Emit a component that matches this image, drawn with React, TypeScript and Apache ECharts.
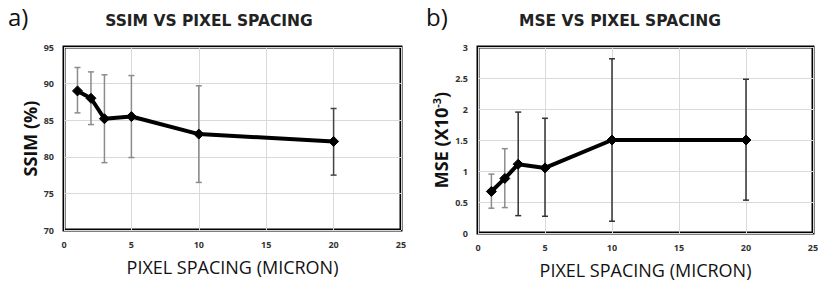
import React, { useEffect, useRef } from "react";
import * as echarts from "echarts";

const spacing = [1, 2, 3, 5, 10, 20];
const ssimMean = [89.0, 88.0, 85.2, 85.5, 83.1, 82.1];
const ssimHigh = [92.2, 91.6, 91.2, 91.1, 89.7, 86.6];
const ssimLow = [86.0, 84.4, 79.2, 79.9, 76.5, 77.5];
const mseMean = [0.67, 0.88, 1.11, 1.05, 1.5, 1.5];
const mseHigh = [0.95, 1.36, 1.95, 1.85, 2.81, 2.48];
const mseLow = [0.4, 0.41, 0.28, 0.27, 0.19, 0.53];
const ssimBarColors = ["#8c8c8c", "#8c8c8c", "#8c8c8c", "#8c8c8c", "#8c8c8c", "#444"];
const mseBarColors = ["#8c8c8c", "#8c8c8c", "#333", "#333", "#333", "#333"];

const FONT = "'Open Sans', 'DejaVu Sans', sans-serif";
const TITLE_FONT = "'DejaVu Sans', sans-serif";

function errSeries(idx: number, lows: number[], highs: number[], colors: string[]) {
  return {
    type: "custom",
    xAxisIndex: idx,
    yAxisIndex: idx,
    z: 1,
    data: spacing.map((x, i) => [x, lows[i], highs[i]]),
    renderItem: (params: any, api: any) => {
      const x = api.value(0);
      const lo = api.coord([x, api.value(1)]);
      const hi = api.coord([x, api.value(2)]);
      const c = colors[params.dataIndex];
      const style = { stroke: c, lineWidth: 1.5 };
      const w = 3;
      return {
        type: "group",
        children: [
          { type: "line", shape: { x1: lo[0], y1: lo[1], x2: hi[0], y2: hi[1] }, style },
          { type: "line", shape: { x1: lo[0] - w, y1: lo[1], x2: lo[0] + w, y2: lo[1] }, style },
          { type: "line", shape: { x1: hi[0] - w, y1: hi[1], x2: hi[0] + w, y2: hi[1] }, style },
        ],
      };
    },
  };
}

function lineSeries(idx: number, vals: number[]) {
  return {
    type: "line",
    xAxisIndex: idx,
    yAxisIndex: idx,
    z: 3,
    data: spacing.map((x, i) => [x, vals[i]]),
    symbol: "diamond",
    symbolSize: 10,
    lineStyle: { color: "#000", width: 4 },
    itemStyle: { color: "#000", borderColor: "#000" },
  };
}

const axisLabel = { fontFamily: FONT, fontSize: 9, fontWeight: "bold" as const, color: "#333" };
const splitLine = { show: true, lineStyle: { color: "#d9d9d9", width: 1 } };

function xAxis(idx: number) {
  return {
    type: "value",
    gridIndex: idx,
    min: 0,
    max: 25,
    interval: 5,
    name: "PIXEL SPACING (MICRON)",
    nameLocation: "middle",
    nameGap: 28,
    nameTextStyle: { fontFamily: FONT, fontSize: 18, color: "#111" },
    axisLine: { show: false },
    axisTick: { show: false },
    axisLabel: { ...axisLabel, margin: 10 },
    splitLine,
  };
}

export default function App() {
  const ref = useRef<HTMLDivElement>(null);
  useEffect(() => {
    const chart = echarts.init(ref.current!, null, { renderer: "svg" });
    chart.setOption({
      animation: false,
      backgroundColor: "#fff",
      graphic: [
        { type: "text", left: 8, top: 4, style: { text: "a)", fontFamily: FONT, fontSize: 24, fill: "#111" } },
        { type: "text", left: 426, top: 4, style: { text: "b)", fontFamily: FONT, fontSize: 24, fill: "#111" } },
        {
          type: "text", x: 209, y: 21,
          style: { text: "SSIM VS PIXEL SPACING", fontFamily: TITLE_FONT, fontSize: 15.5, fontWeight: "bold", fill: "#222", align: "center", verticalAlign: "middle" },
        },
        {
          type: "text", x: 620, y: 21,
          style: { text: "MSE VS PIXEL SPACING", fontFamily: TITLE_FONT, fontSize: 15.5, fontWeight: "bold", fill: "#222", align: "center", verticalAlign: "middle" },
        },
      ],
      grid: [
        { left: 64, top: 47, width: 337, height: 183, show: true, borderColor: "#000", borderWidth: 3, backgroundColor: "#fff" },
        { left: 478, top: 47, width: 335, height: 186, show: true, borderColor: "#000", borderWidth: 3, backgroundColor: "#fff" },
      ],
      xAxis: [xAxis(0), xAxis(1)],
      yAxis: [
        {
          type: "value", gridIndex: 0, min: 70, max: 95, interval: 5,
          name: "SSIM (%)", nameLocation: "middle", nameGap: 25,
          nameTextStyle: { fontFamily: FONT, fontSize: 18, fontWeight: "bold", color: "#111" },
          axisLine: { show: false }, axisTick: { show: false },
          axisLabel: { ...axisLabel, margin: 10 }, splitLine,
        },
        {
          type: "value", gridIndex: 1, min: 0, max: 3, interval: 0.5,
          name: "MSE (X10{sup|-3})", nameLocation: "middle", nameGap: 28,
          nameTextStyle: {
            fontFamily: FONT, fontSize: 18, fontWeight: "bold", color: "#111",
            rich: { sup: { fontFamily: FONT, fontSize: 11, fontWeight: "bold", color: "#111", verticalAlign: "top", padding: [0, 0, 8, 0] } },
          },
          axisLine: { show: false }, axisTick: { show: false },
          axisLabel: { ...axisLabel, margin: 10 }, splitLine,
        },
      ],
      series: [
        errSeries(0, ssimLow, ssimHigh, ssimBarColors),
        lineSeries(0, ssimMean),
        errSeries(1, mseLow, mseHigh, mseBarColors),
        lineSeries(1, mseMean),
      ],
    });
    return () => chart.dispose();
  }, []);
  return <div ref={ref} style={{ position: "absolute", left: 0, top: 0, width: 831, height: 299 }} />;
}
